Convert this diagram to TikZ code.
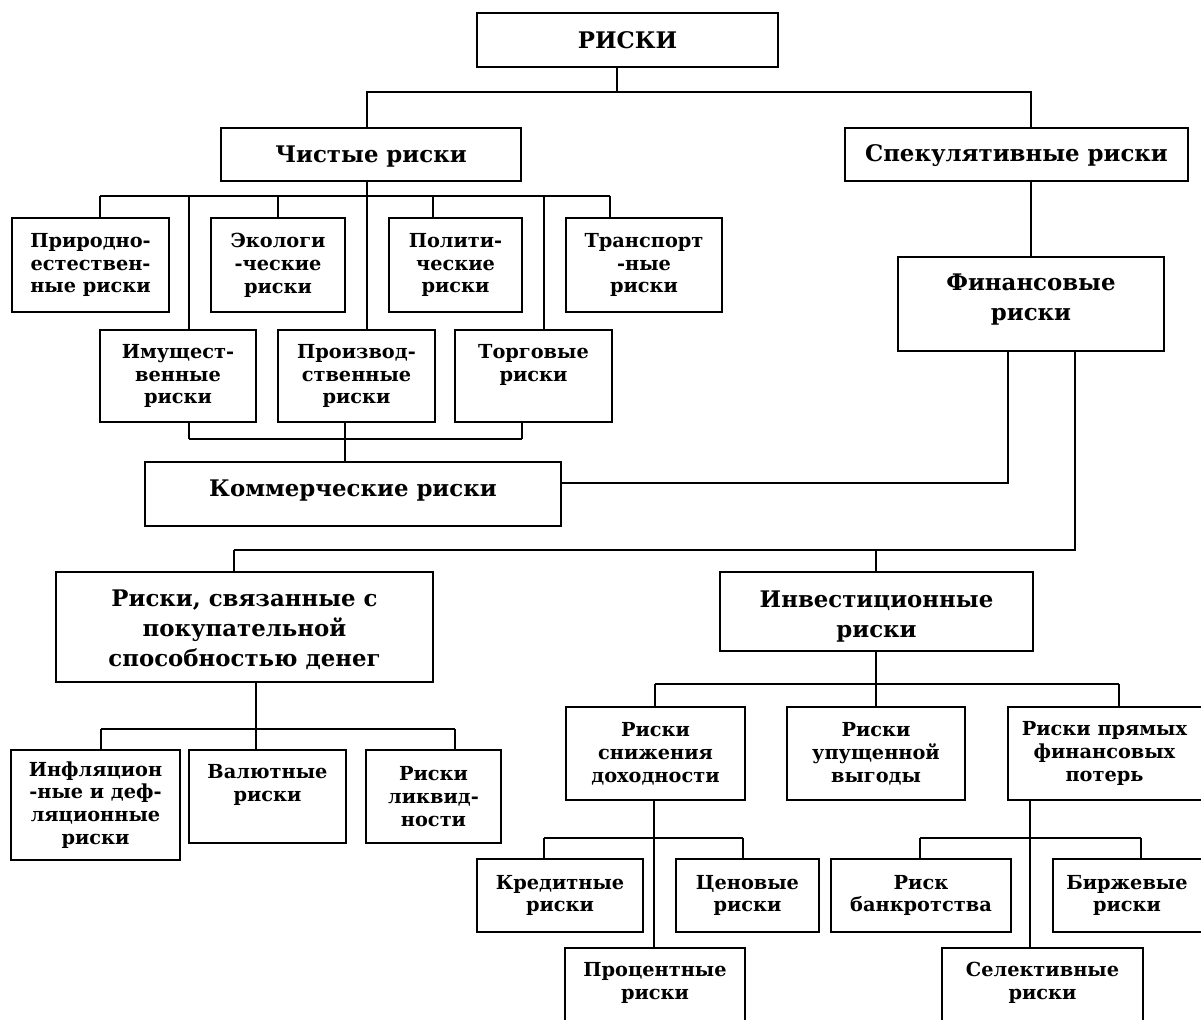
\documentclass[tikz,border=0pt]{standalone}
\usepackage{fontspec}
\setmainfont{DejaVu Serif}
\usetikzlibrary{fit,positioning}
\begin{document}
\begin{tikzpicture}[x=0.02cm, y=-0.02cm, line width=1pt,
        main/.style = {draw, inner sep=0pt},
        txt/.style = {align=center, inner sep=0pt, font=\bfseries\fontsize{11}{13}\selectfont},
        bigtxt/.style = {align=center, inner sep=0pt, font=\bfseries\fontsize{13}{17}\selectfont}]
        \useasboundingbox (0,0) rectangle (1201,1020);

        % upper levels
        \node[main, fit={(477,13) (778,67)}, label={[bigtxt]center:РИСКИ}] (risks) {};
        \node[main, fit={(221,128) (521,181)}, label={[bigtxt, yshift=-1pt]center:Чистые риски}] (pure) {};
        \node[main, fit={(845,128) (1188,181)}, label={[bigtxt, yshift=-0.5pt]center:Спекулятивные риски}] (spec) {};
        \node[main, fit={(898,257) (1164,351)}, label={[bigtxt, yshift=2.5pt]center:Финансовые\\риски}] (fin) {};

        % pure risks
        \node[main, fit={(12,218) (169,312)}, label={[txt]center:Природно-\\естествен-\\ные риски}] (nat) {};
        \node[main, fit={(211,218) (345,312)}, label={[txt]center:Экологи\\-ческие\\риски}] (eco) {};
        \node[main, fit={(389,218) (522,312)}, label={[txt]center:Полити-\\ческие\\риски}] (pol) {};
        \node[main, fit={(566,218) (722,312)}, label={[txt]center:Транспорт\\-ные\\риски}] (trn) {};
        \node[main, fit={(100,330) (256,422)}, label={[txt]center:Имущест-\\венные\\риски}] (prop) {};
        \node[main, fit={(278,330) (435,422)}, label={[txt]center:Производ-\\ственные\\риски}] (prod) {};
        \node[main, fit={(455,330) (612,422)}, label={[txt]center:Торговые\\риски\\\phantom{р}}] (trade) {};
        \node[main, fit={(145,462) (561,526)}, label={[bigtxt, yshift=1.7pt]center:Коммерческие риски}] (comm) {};

        % financial risks
        \node[main, fit={(56,572) (433,682)}, label={[bigtxt, yshift=-1.5pt]center:Риски, связанные с\\покупательной\\способностью денег}] (money) {};
        \node[main, fit={(720,572) (1033,651)}, label={[bigtxt, yshift=-3pt]center:Инвестиционные\\риски}] (inv) {};
        \node[main, fit={(11,750) (180,860)}, label={[txt]center:Инфляцион\\-ные и деф-\\ляционные\\риски}] (infl) {};
        \node[main, fit={(189,750) (346,843)}, label={[txt]center:Валютные\\риски\\\phantom{р}}] (val) {};
        \node[main, fit={(366,750) (501,843)}, label={[txt]center:Риски\\ликвид-\\ности}] (liq) {};
        \node[main, fit={(566,707) (745,800)}, label={[txt]center:Риски\\снижения\\доходности}] (decl) {};
        \node[main, fit={(787,707) (965,800)}, label={[txt]center:Риски\\упущенной\\выгоды}] (lost) {};
        \node[main, fit={(1008,707) (1215,800)}, label={[txt, xshift=-4pt]center:Риски прямых\\финансовых\\потерь}] (direct) {};
        \node[main, fit={(477,859) (643,932)}, label={[txt]center:Кредитные\\риски}] (cred) {};
        \node[main, fit={(676,859) (819,932)}, label={[txt]center:Ценовые\\риски}] (price) {};
        \node[main, fit={(565,948) (745,1040)}, label={[txt]center:Процентные\\риски\\\phantom{р}}] (pct) {};
        \node[main, fit={(831,859) (1011,932)}, label={[txt]center:Риск\\банкротства}] (bank) {};
        \node[main, fit={(1053,859) (1215,932)}, label={[txt, xshift=-4pt]center:Биржевые\\риски}] (exch) {};
        \node[main, fit={(942,948) (1143,1040)}, label={[txt]center:Селективные\\риски\\\phantom{р}}] (sel) {};

        % connectors
        \draw (risks.south -| 617,0) -- (617,92) -| (pure.north -| 367,0);
        \draw (617,92) -| (spec.north -| fin.north);
        \draw (spec.south -| fin.north) -- (fin.north);

        \draw (pure.south -| 367,0) -- (367,196);
        \draw (100,196) -- (610,196);
        \foreach \x/\n in {100/nat, 278/eco, 433/pol, 610/trn, 189/prop, 367/prod, 544/trade}
            \draw (\x,196) -- (\n.north -| \x,0);
        \foreach \x/\n in {189/prop, 345/prod, 522/trade}
            \draw (\n.south -| \x,0) -- (\x,439);
        \draw (189,439) -- (522,439);
        \draw (345,439) -- (comm.north -| 345,0);
        \draw (comm.east |- 0,483) -| (fin.south -| 1008,0);

        \draw (fin.south -| 1075,0) |- (234,550);
        \draw (234,550) -- (money.north -| 234,0);
        \draw (876,550) -- (inv.north -| 876,0);

        \draw (money.south -| 256,0) -- (val.north -| 256,0);
        \draw (101,729) -- (455,729);
        \draw (101,729) -- (infl.north -| 101,0);
        \draw (455,729) -- (liq.north -| 455,0);

        \draw (inv.south -| 876,0) -- (876,684);
        \draw (655,684) -- (1119,684);
        \foreach \x/\n in {655/decl, 876/lost, 1119/direct}
            \draw (\x,684) -- (\n.north -| \x,0);

        \draw (decl.south -| 654,0) -- (pct.north -| 654,0);
        \draw (544,838) -- (743,838);
        \draw (544,838) -- (cred.north -| 544,0);
        \draw (743,838) -- (price.north -| 743,0);

        \draw (direct.south -| 1030,0) -- (sel.north -| 1030,0);
        \draw (920,838) -- (1141,838);
        \draw (920,838) -- (bank.north -| 920,0);
        \draw (1141,838) -- (exch.north -| 1141,0);
\end{tikzpicture}
\end{document}
